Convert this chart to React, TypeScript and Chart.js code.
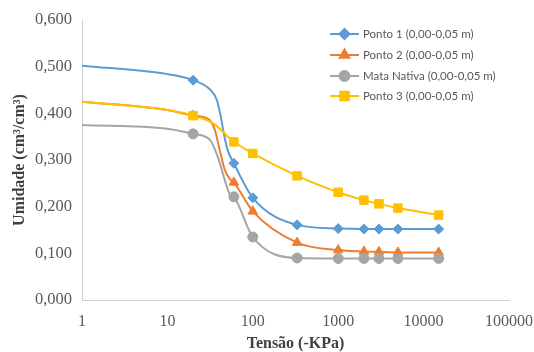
import { useEffect, useRef } from "react";
import { Chart, registerables } from "chart.js";
import { drawPoint } from "chart.js/helpers";

Chart.register(...registerables);

// Marked observations (tension in -kPa)
const tensaoMarcadores = [20, 60, 100, 330, 1000, 2000, 3000, 5000, 15000];
const ponto1Valores = [0.471, 0.293, 0.219, 0.161, 0.153, 0.152, 0.152, 0.152, 0.152];
const ponto2Valores = [0.395, 0.252, 0.19, 0.123, 0.107, 0.104, 0.103, 0.102, 0.102];
const mataValores = [0.356, 0.221, 0.135, 0.09, 0.089, 0.089, 0.089, 0.089, 0.089];
const ponto3Valores = [0.395, 0.339, 0.314, 0.266, 0.231, 0.214, 0.206, 0.197, 0.182];

// Fitted-curve points without markers
const ponto1CurvaX = [1, 10, 32, 38, 42, 46, 51];
const ponto1CurvaY = [0.502, 0.484, 0.45, 0.428, 0.395, 0.355, 0.32];
const ponto2CurvaX = [1, 10, 30, 36, 41, 47, 54];
const ponto2CurvaY = [0.425, 0.407, 0.388, 0.364, 0.321, 0.279, 0.259];
const mataCurvaX = [1, 10, 31.5, 39, 47, 54];
const mataCurvaY = [0.375, 0.367, 0.343, 0.306, 0.257, 0.226];
const ponto3CurvaX = [1, 10, 34];
const ponto3CurvaY = [0.425, 0.407, 0.379];

const xTickValores = [1, 10, 100, 1000, 10000, 100000];
const serieNomes = [
  "Ponto 1 (0,00-0,05 m)",
  "Ponto 2 (0,00-0,05 m)",
  "Mata Nativa (0,00-0,05 m)",
  "Ponto 3 (0,00-0,05 m)",
];

type P = { x: number; y: number; m: boolean };

function serie(my: number[], cx: number[], cy: number[]): P[] {
  const pts: P[] = [];
  tensaoMarcadores.forEach((x, i) => pts.push({ x, y: my[i], m: true }));
  cx.forEach((x, i) => pts.push({ x, y: cy[i], m: false }));
  return pts.sort((a, b) => a.x - b.x);
}

const estilos = [
  { color: "#5B9BD5", style: "rectRot", r: 5, order: 3 },
  { color: "#ED7D31", style: "triangle", r: 5.5, order: 2 },
  { color: "#A5A5A5", style: "circle", r: 5, order: 1 },
  { color: "#FFC000", style: "rect", r: 6, order: 0 },
];

const legendPlugin = {
  id: "excelLegend",
  afterDraw(chart: any) {
    const ctx = chart.ctx;
    const x0 = 330;
    const rows = [34, 55, 76, 96];
    ctx.save();
    chart.data.datasets.forEach((ds: any, i: number) => {
      const y = rows[i];
      const st = estilos[i];
      ctx.strokeStyle = st.color;
      ctx.lineWidth = 2;
      ctx.beginPath();
      ctx.moveTo(x0, y);
      ctx.lineTo(x0 + 29, y);
      ctx.stroke();
      ctx.fillStyle = st.color;
      drawPoint(
        ctx,
        { pointStyle: st.style, radius: st.r, rotation: 0, borderWidth: 1 } as any,
        x0 + 14.5,
        y
      );
      ctx.fillStyle = "#595959";
      ctx.font = "11.5px Lato";
      ctx.textBaseline = "middle";
      ctx.textAlign = "left";
      ctx.fillText(ds.label, x0 + 33, y + 0.5);
    });
    ctx.restore();
  },
};

export default function App() {
  const ref = useRef<HTMLCanvasElement | null>(null);

  useEffect(() => {
    if (!ref.current) return;
    const valores = [ponto1Valores, ponto2Valores, mataValores, ponto3Valores];
    const cxs = [ponto1CurvaX, ponto2CurvaX, mataCurvaX, ponto3CurvaX];
    const cys = [ponto1CurvaY, ponto2CurvaY, mataCurvaY, ponto3CurvaY];
    const datasets = serieNomes.map((nome, i) => {
      const st = estilos[i];
      return {
        label: nome,
        data: serie(valores[i], cxs[i], cys[i]),
        borderColor: st.color,
        backgroundColor: st.color,
        borderWidth: 2,
        pointStyle: st.style,
        pointRadius: (c: any) => (c.raw && c.raw.m ? st.r : 0),
        pointHoverRadius: (c: any) => (c.raw && c.raw.m ? st.r : 0),
        pointBorderWidth: 1,
        cubicInterpolationMode: "monotone",
        tension: 0.4,
        order: st.order,
      };
    });

    const chart = new Chart(ref.current, {
      type: "line",
      data: { datasets } as any,
      options: {
        animation: false,
        responsive: false,
        devicePixelRatio: 1,
        parsing: { xAxisKey: "x", yAxisKey: "y" } as any,
        layout: { padding: { top: 20, right: 25, left: 0, bottom: 0 } },
        plugins: { legend: { display: false }, tooltip: { enabled: false } },
        scales: {
          x: {
            type: "logarithmic",
            min: 1,
            max: 100000,
            afterBuildTicks: (s: any) => {
              s.ticks = xTickValores.map((v) => ({ value: v }));
            },
            afterFit: (s: any) => {
              s.height = 52;
              s.paddingLeft = 0;
              s.paddingRight = 0;
            },
            grid: { display: false, drawTicks: false },
            border: { display: true, color: "#d0d0d0", width: 1 },
            ticks: {
              padding: 12,
              color: "#595959",
              font: { family: "'Liberation Serif'", size: 16 },
              maxRotation: 0,
              autoSkip: false,
              callback: (v: any) => String(v),
            },
            title: {
              display: true,
              text: "Tensão (-KPa)",
              color: "#404040",
              font: { family: "'Liberation Serif'", size: 16, weight: "bold", lineHeight: 1 },
              padding: { top: 0, bottom: 0 },
            },
          },
          y: {
            min: 0,
            max: 0.6,
            afterFit: (s: any) => {
              s.width = 82;
              s.paddingTop = 0;
              s.paddingBottom = 0;
            },
            grid: { display: false, drawTicks: false },
            border: { display: true, color: "#d0d0d0", width: 1 },
            ticks: {
              stepSize: 0.1,
              padding: 10,
              color: "#595959",
              font: { family: "'Liberation Serif'", size: 16.5 },
              callback: (v: any) => Number(v).toFixed(3).replace(".", ","),
            },
            title: {
              display: true,
              text: "Umidade (cm³/cm³)",
              color: "#404040",
              font: { family: "'Liberation Serif'", size: 16, weight: "bold" },
              padding: { top: 10, bottom: 0 },
            },
          },
        },
      } as any,
      plugins: [legendPlugin],
    });
    return () => chart.destroy();
  }, []);

  return (
    <div style={{ position: "absolute", left: 0, top: 0, width: 534, height: 352, background: "#fff" }}>
      <canvas ref={ref} width={534} height={352} />
    </div>
  );
}
